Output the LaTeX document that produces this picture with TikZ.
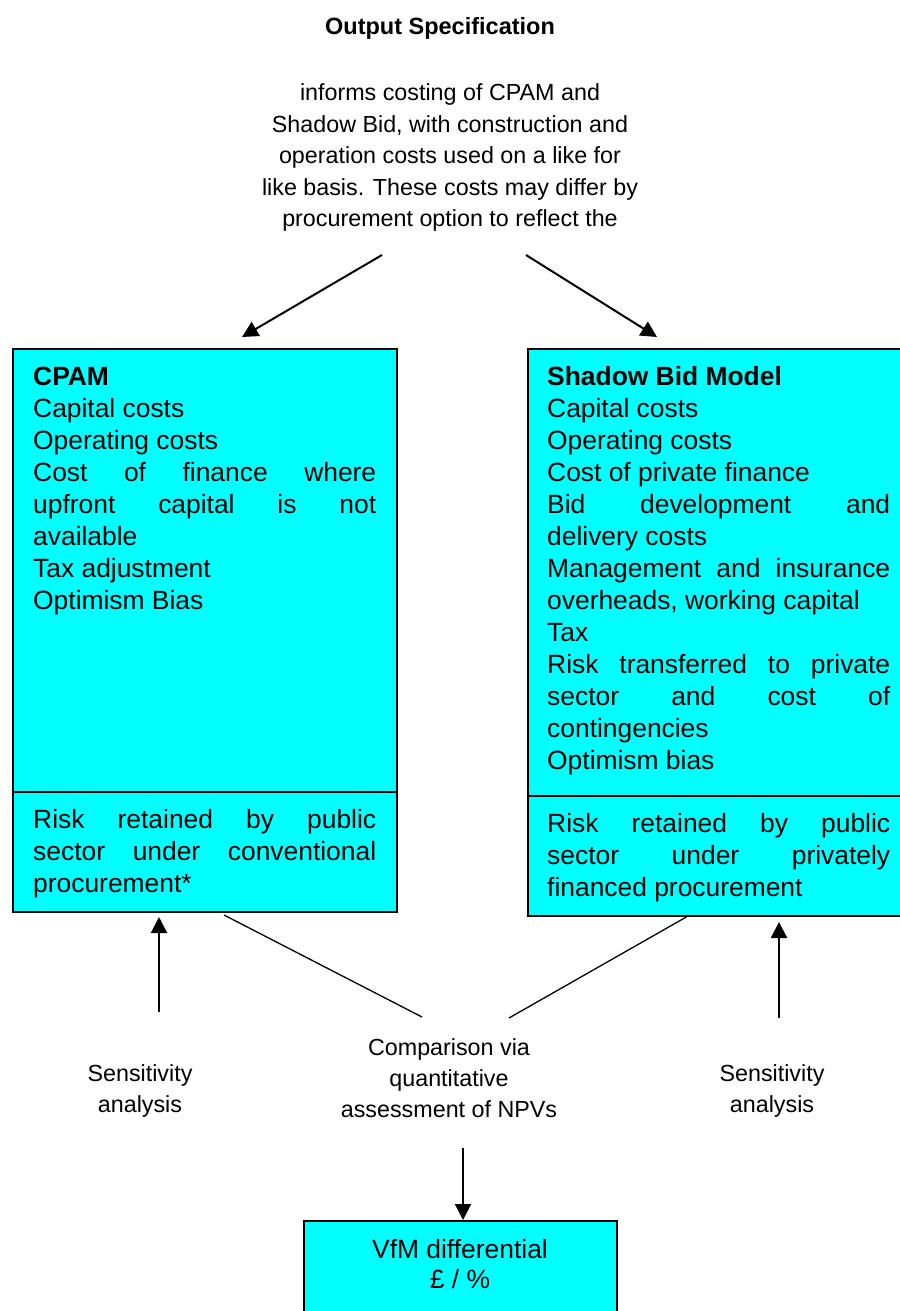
\documentclass[tikz,border=0pt]{standalone}
\usepackage{fontspec}
\setmainfont{Liberation Sans}
\usetikzlibrary{arrows.meta}
\definecolor{boxcyan}{HTML}{00FFFF}
\newcommand{\jline}[1]{\makebox[343pt][s]{#1}}
\begin{document}
\begin{tikzpicture}[x=1pt,y=-1pt,
  body/.style={anchor=base west,inner sep=0pt,font=\fontsize{26.4}{32}\selectfont},
  note/.style={anchor=base,inner sep=0pt,font=\fontsize{23.3}{31}\selectfont},
  vnote/.style={anchor=base,inner sep=0pt,font=\fontsize{26.4}{32}\selectfont},
  cbox/.style={draw=black,line width=2pt,fill=boxcyan,rectangle,inner sep=0pt,anchor=north west},
  arr/.style={line width=2pt,-{Triangle[length=16pt,width=16pt]}},
  thinline/.style={line width=1.3pt}]
\useasboundingbox (0,0) rectangle (899,1311);
% boxes
\node[cbox,minimum width=384pt,minimum height=443pt] (cpam) at (12,348) {};
\node[cbox,minimum width=384pt,minimum height=120pt] (cpamrisk) at (12,791) {};
\node[cbox,minimum width=376pt,minimum height=447pt] (sbm) at (527,348) {};
\node[cbox,minimum width=376pt,minimum height=120pt] (sbmrisk) at (527,795) {};
\node[cbox,minimum width=313pt,minimum height=110pt] (vfm) at (303,1220) {};
% title and top note
\node[anchor=base,inner sep=0pt,font=\bfseries\fontsize{23.5}{28}\selectfont] (title) at (440,35) {Output Specification};
\node[note] (i1) at (450,101) {informs costing of CPAM and};
\node[note] (i2) at (450,132) {Shadow Bid, with construction and};
\node[note] (i3) at (450,164) {operation costs used on a like for};
\node[note] (i4) at (450,195) {like basis. These costs may differ by};
\node[note] (i5) at (450,226) {procurement option to reflect the};
% CPAM text
\node[body,font=\bfseries\fontsize{26.4}{32}\selectfont] (c1) at (33,385) {CPAM};
\node[body] (c2) at (33,417) {Capital costs};
\node[body] (c3) at (33,449) {Operating costs};
\node[body] (c4) at (33,481) {\jline{Cost of finance where}};
\node[body] (c5) at (33,513) {\jline{upfront capital is not}};
\node[body] (c6) at (33,545) {available};
\node[body] (c7) at (33,577) {Tax adjustment};
\node[body] (c8) at (33,609) {Optimism Bias};
\node[body] (cr1) at (33,828) {\jline{Risk retained by public}};
\node[body] (cr2) at (33,860) {\jline{sector under conventional}};
\node[body] (cr3) at (33,892) {procurement*};
% Shadow bid text
\node[body,font=\bfseries\fontsize{26.4}{32}\selectfont] (s1) at (547,385) {Shadow Bid Model};
\node[body] (s2) at (547,417) {Capital costs};
\node[body] (s3) at (547,449) {Operating costs};
\node[body] (s4) at (547,481) {Cost of private finance};
\node[body] (s5) at (547,513) {\jline{Bid development and}};
\node[body] (s6) at (547,545) {delivery costs};
\node[body] (s7) at (547,577) {\jline{Management and insurance}};
\node[body] (s8) at (547,609) {overheads, working capital};
\node[body] (s9) at (547,641) {Tax};
\node[body] (s10) at (547,673) {\jline{Risk transferred to private}};
\node[body] (s11) at (547,705) {\jline{sector and cost of}};
\node[body] (s12) at (547,737) {contingencies};
\node[body] (s13) at (547,769) {Optimism bias};
\node[body] (sr1) at (547,832) {\jline{Risk retained by public}};
\node[body] (sr2) at (547,864) {\jline{sector under privately}};
\node[body] (sr3) at (547,896) {financed procurement};
% lower notes
\node[note] (sl1) at (140,1081) {Sensitivity};
\node[note] (sl2) at (140,1112) {analysis};
\node[note] (sra1) at (772,1081) {Sensitivity};
\node[note] (sra2) at (772,1112) {analysis};
\node[note] (cmp1) at (449,1055) {Comparison via};
\node[note] (cmp2) at (449,1086) {quantitative};
\node[note] (cmp3) at (449,1117) {assessment of NPVs};
% VfM text
\node[vnote] (v1) at (460,1258) {VfM differential};
\node[vnote] (v2) at (460,1288) {£ / \%};
% connector end points
\coordinate (a1s) at (382,255);
\coordinate (a1e) at (242,337);
\coordinate (a2s) at (526,255);
\coordinate (a2e) at (657,337);
\coordinate (u1s) at (159,1012);
\coordinate (u1e) at (159,917);
\coordinate (u2s) at (779,1018);
\coordinate (u2e) at (779,922);
\coordinate (d1s) at (224,915);
\coordinate (d1e) at (422,1017);
\coordinate (d2s) at (688,916);
\coordinate (d2e) at (509,1018);
\coordinate (b1s) at (463,1148);
% connectors
\draw[arr] (a1s) -- (a1e);
\draw[arr] (a2s) -- (a2e);
\draw[arr] (u1s) -- (u1e);
\draw[arr] (u2s) -- (u2e);
\draw[thinline] (d1s) -- (d1e);
\draw[thinline] (d2s) -- (d2e);
\draw[arr] (b1s) -- (b1s |- vfm.north);
\end{tikzpicture}
\end{document}
